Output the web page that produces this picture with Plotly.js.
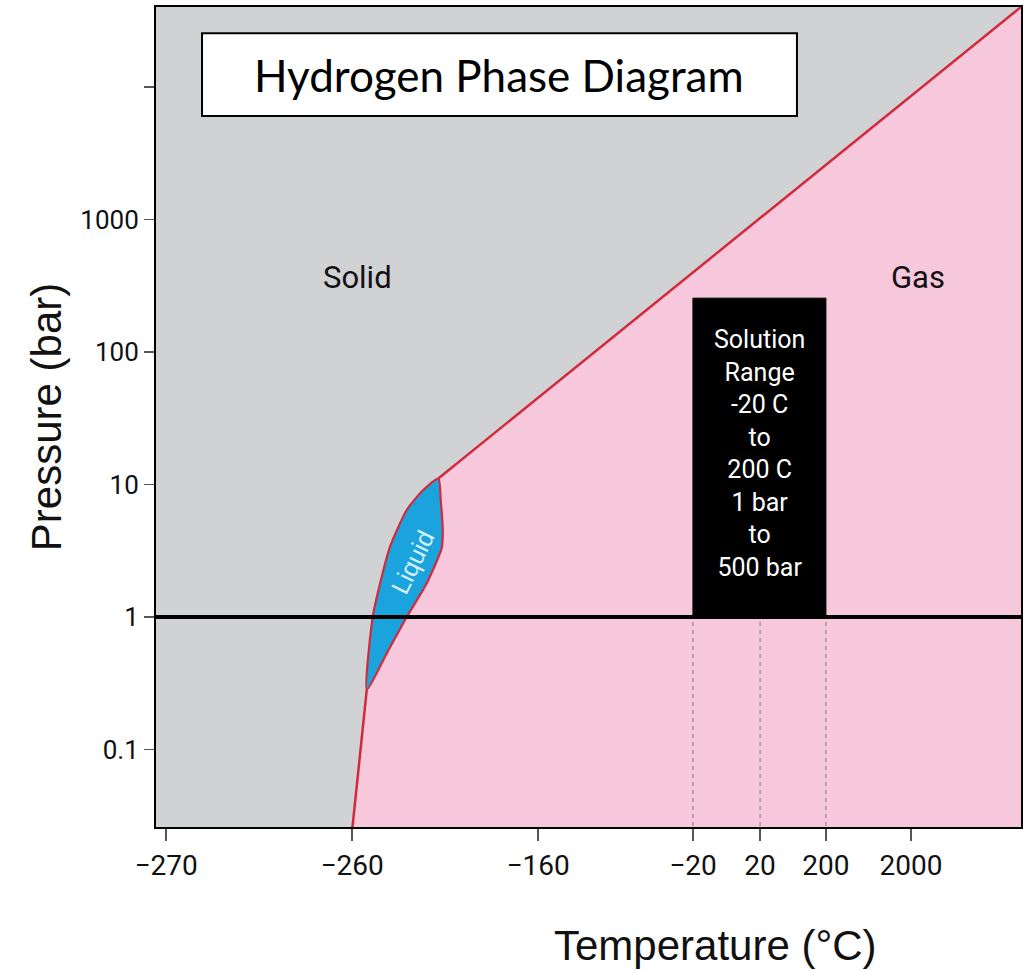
<!DOCTYPE html>
<html>
<head>
<meta charset="utf-8">
<script src="https://cdn.plot.ly/plotly-3.0.1.min.js"></script>
<style>html,body{margin:0;padding:0;background:#fff;}</style>
</head>
<body>
<div id="chart" style="width:1028px;height:971px;"></div>
<script>
// ---- Axis ticks (x axis is a non-linear, schematic temperature scale) ----
const xTickLabels = ['\u2212270', '\u2212260', '\u2212160', '\u221220', '20', '200', '2000'];
const xTickPos    = [0, 1, 2, 2.833, 3.194, 3.548, 4.005];
const yTickVals   = [0.1, 1, 10, 100, 1000, 10000];
const yTickLabels = ['0.1', '1', '10', '100', '1000', ''];

// ---- Phase boundaries (x in schematic axis units, pressure in bar) ----
const sublimX = [1.0, 1.079];
const sublimP = [0.024, 0.281];
const meltX = [1.079, 1.111, 1.151, 1.204, 1.294, 1.383, 1.464];
const meltP = [0.281, 1.0, 1.80, 3.39, 6.42, 9.09, 11.1];
const vapX  = [1.079, 1.187, 1.294, 1.402, 1.482, 1.488, 1.477, 1.464];
const vapP  = [0.281, 0.532, 1.0, 1.80, 3.30, 4.30, 7.64, 11.1];
const highX = [1.464, 4.597];
const highP = [11.1, 40200];

// ---- Solution range box ----
const boxX = [xTickPos[3], xTickPos[5]];
const boxP = [1, 255];
const boxLines = ['Solution', 'Range', '-20 C', 'to', '200 C', '1 bar', 'to', '500 bar'];
const dashX = [xTickPos[3], xTickPos[4], xTickPos[5]];

const xRange = [-0.054, 4.597];
const yRange = [Math.log10(0.026), 4.604];

const narrow = "Roboto, 'Liberation Sans', sans-serif";
const sans = "'Liberation Sans', Arial, sans-serif";
const red = '#d22a3c';

// gas region polygon (the liquid area is painted over it afterwards)
const gasX = sublimX.concat(highX, [4.7, 4.7]);
const gasP = sublimP.concat(highP, [40200, 0.01]);

// liquid region polygon
const liqX = meltX.concat(vapX.slice().reverse().slice(1));
const liqP = meltP.concat(vapP.slice().reverse().slice(1));

const traces = [
  {x: gasX, y: gasP, mode: 'lines', fill: 'toself', fillcolor: '#f7c7dc',
   line: {width: 0, color: '#f7c7dc'}, hoverinfo: 'skip'},
  {x: liqX, y: liqP, mode: 'lines', fill: 'toself', fillcolor: '#1ba3de',
   line: {width: 2.2, color: red, shape: 'spline', smoothing: 0.6}, hoverinfo: 'skip'},
  {x: sublimX, y: sublimP, mode: 'lines', line: {width: 2.5, color: red}, hoverinfo: 'skip'},
  {x: highX, y: highP, mode: 'lines', line: {width: 2.5, color: red}, hoverinfo: 'skip'}
];
dashX.forEach(function (dx) {
  traces.push({x: [dx, dx], y: [0.01, 1], mode: 'lines',
    line: {width: 1.2, color: '#8f8590', dash: '4px,4px'}, hoverinfo: 'skip'});
});
traces.push({x: [boxX[0], boxX[1], boxX[1], boxX[0], boxX[0]],
  y: [boxP[0], boxP[0], boxP[1], boxP[1], boxP[0]], mode: 'lines', fill: 'toself',
  fillcolor: '#000000', line: {width: 1, color: '#000000'}, hoverinfo: 'skip'});
traces.push({x: [-1, 6], y: [1, 1], mode: 'lines', line: {width: 4, color: '#000000'}, hoverinfo: 'skip'});

const layout = {
  width: 1028, height: 971,
  margin: {l: 156, r: 7, t: 7, b: 144, pad: 0},
  paper_bgcolor: '#ffffff',
  plot_bgcolor: '#d1d2d4',
  showlegend: false,
  xaxis: {
    range: xRange, tickmode: 'array', tickvals: xTickPos, ticktext: xTickLabels,
    ticks: 'outside', ticklen: 12, tickwidth: 2, tickcolor: '#555555',
    showline: true, mirror: true, linecolor: '#000000', linewidth: 2,
    showgrid: false, zeroline: false, ticklabelstandoff: 0,
    tickfont: {family: narrow, size: 28, color: '#111111'}
  },
  yaxis: {
    type: 'log', range: yRange, tickmode: 'array', tickvals: yTickVals, ticktext: yTickLabels,
    ticks: 'outside', ticklen: 10, tickwidth: 1.5, tickcolor: '#555555',
    showline: true, mirror: true, linecolor: '#000000', linewidth: 2,
    showgrid: false, zeroline: false,
    tickfont: {family: narrow, size: 26, color: '#111111'},
    title: {text: 'Pressure (bar)', font: {family: sans, size: 42, color: '#111111'}, standoff: 6}
  },
  shapes: [
    {type: 'rect', xref: 'paper', yref: 'paper', x0: 0.0532, x1: 0.741, y0: 0.867, y1: 0.968,
     fillcolor: '#ffffff', line: {color: '#000000', width: 2}, layer: 'above'}
  ],
  annotations: [
    {xref: 'paper', yref: 'paper', x: 0.3965, y: 0.9175, text: 'Hydrogen Phase Diagram',
     showarrow: false, xanchor: 'center', yanchor: 'middle',
     font: {family: "Lato, 'Liberation Sans', sans-serif", size: 44, color: '#000000'}},
    {xref: 'paper', yref: 'paper', x: 0.647, y: -0.144, text: 'Temperature (°C)',
     showarrow: false, xanchor: 'center', yanchor: 'middle',
     font: {family: sans, size: 42, color: '#111111'}},
    {xref: 'x', yref: 'y', x: 1.032, y: 2.566, text: 'Solid', showarrow: false,
     font: {family: narrow, size: 31, color: '#111111'}},
    {xref: 'x', yref: 'y', x: 4.043, y: 2.566, text: 'Gas', showarrow: false,
     font: {family: narrow, size: 31, color: '#111111'}},
    {xref: 'x', yref: 'y', x: 1.325, y: Math.log10(2.6), text: 'Liquid', showarrow: false,
     textangle: -64, font: {family: sans, size: 25, color: '#d6f1fb'}},
    {xref: 'x', yref: 'y', x: (boxX[0] + boxX[1]) / 2, y: 1.235, text: boxLines.join('<br>'),
     showarrow: false, xanchor: 'center', yanchor: 'middle', align: 'center',
     font: {family: narrow, size: 25, color: '#ffffff'}}
  ]
};

Plotly.newPlot('chart', traces, layout, {displayModeBar: false, staticPlot: true});
</script>
</body>
</html>
